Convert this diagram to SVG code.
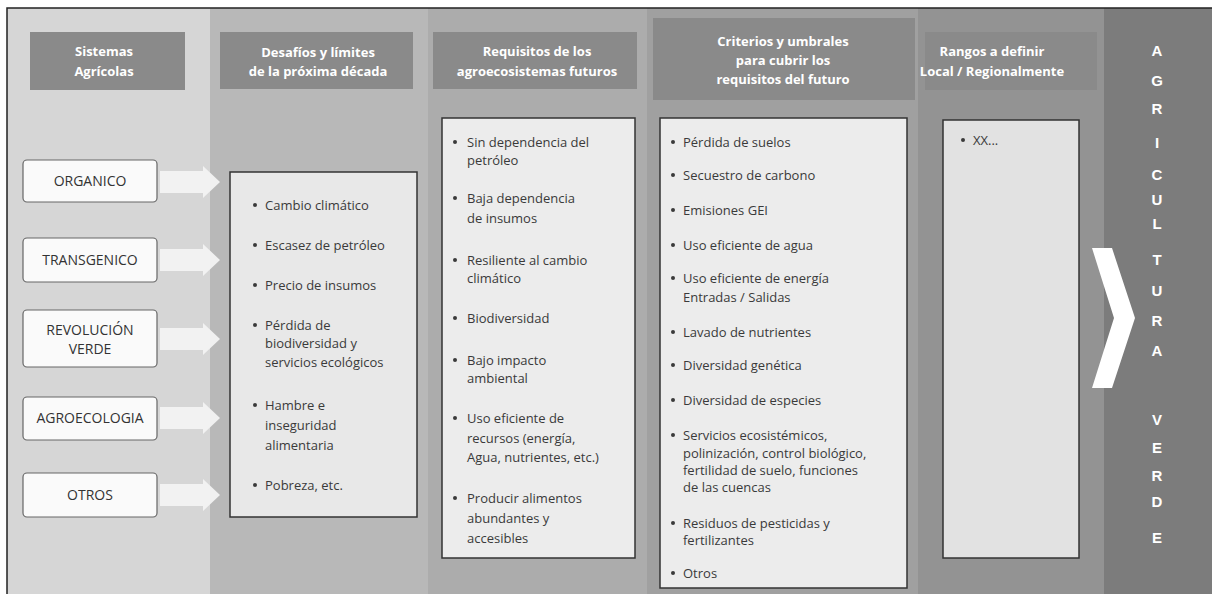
<svg xmlns="http://www.w3.org/2000/svg" width="1212" height="594" viewBox="0 0 1212 594">
<style>
.ht{font-family:"Open Sans","Liberation Sans",sans-serif;font-size:13px;font-weight:bold;fill:#fff;text-anchor:middle}
.hdr{fill:#8a8a8a}
.box{stroke:#333;stroke-width:1.5}
.nb{fill:#fafafa;stroke:#666;stroke-width:1.2}
.nt{font-family:"Open Sans","Liberation Sans",sans-serif;font-size:14px;fill:#333;text-anchor:middle}
.bt{font-family:"Open Sans","Liberation Sans",sans-serif;font-size:13px;fill:#3a3a3a}
.bu{fill:#3a3a3a}
.arr{fill:#f4f4f4;fill-opacity:0.92}
.vl{font-family:"Liberation Sans",Arial,sans-serif;font-size:15px;font-weight:bold;fill:#fff;text-anchor:middle}
</style>
<defs>
<circle id="dot" r="2"/>
</defs>
<rect x="0" y="0" width="1212" height="594" fill="#fff"/>
<g id="bands">
<rect x="7" y="8" width="203" height="586" fill="#d6d6d6"/>
<rect x="210" y="8" width="218" height="586" fill="#b8b8b8"/>
<rect x="428" y="8" width="219" height="586" fill="#acacac"/>
<rect x="647" y="8" width="271" height="586" fill="#a0a0a0"/>
<rect x="918" y="8" width="186" height="586" fill="#939393"/>
<rect x="1104" y="8" width="108" height="586" fill="#7c7c7c"/>
<path d="M7,594 V8 H1212" fill="none" stroke="#222" stroke-width="1.5"/>
</g>
<g id="h1"><rect class="hdr" x="30" y="32" width="155" height="58"/>
<text class="ht" x="104" y="56">Sistemas</text><text class="ht" x="104" y="76">Agrícolas</text></g>
<g id="h2"><rect class="hdr" x="220" y="32" width="193" height="57"/>
<text class="ht" x="318" y="57">Desafíos y límites</text><text class="ht" x="318" y="76">de la próxima década</text></g>
<g id="h3"><rect class="hdr" x="433" y="32" width="204" height="57"/>
<text class="ht" x="537" y="56">Requisitos de los</text><text class="ht" x="537" y="76">agroecosistemas futuros</text></g>
<g id="h4"><rect class="hdr" x="653" y="18" width="262" height="82" fill="#858585"/>
<text class="ht" x="783" y="46">Criterios y umbrales</text><text class="ht" x="783" y="65">para cubrir los</text><text class="ht" x="783" y="84">requisitos del futuro</text></g>
<g id="h5"><rect class="hdr" x="925" y="32" width="172" height="58" fill="#848484"/>
<text class="ht" x="992" y="56">Rangos a definir</text><text class="ht" x="992" y="76">Local / Regionalmente</text></g>

<g id="connectors">
<path class="arr" d="M160,171 H203 V166 L220,182 L203,198 V193 H160 Z"/>
<path class="arr" d="M160,249 H203 V244 L220,260 L203,276 V271 H160 Z"/>
<path class="arr" d="M160,328 H203 V323 L220,339 L203,355 V350 H160 Z"/>
<path class="arr" d="M160,407 H203 V402 L220,418 L203,434 V429 H160 Z"/>
<path class="arr" d="M160,484 H203 V479 L220,495 L203,511 V506 H160 Z"/>
</g>

<g id="n-organico"><rect class="nb" x="23" y="160" width="134" height="42" rx="4"/><text class="nt" x="90" y="186">ORGANICO</text></g>
<g id="n-transgenico"><rect class="nb" x="23" y="238" width="134" height="44" rx="4"/><text class="nt" x="90" y="265">TRANSGENICO</text></g>
<g id="n-revolucion"><rect class="nb" x="23" y="310" width="134" height="57" rx="4"/><text class="nt" x="90" y="335">REVOLUCIÓN</text><text class="nt" x="90" y="354">VERDE</text></g>
<g id="n-agroecologia"><rect class="nb" x="23" y="397" width="134" height="43" rx="4"/><text class="nt" x="90" y="423">AGROECOLOGIA</text></g>
<g id="n-otros"><rect class="nb" x="23" y="473" width="134" height="44" rx="4"/><text class="nt" x="90" y="500">OTROS</text></g>

<g id="desafios">
<rect class="box" x="230" y="172" width="187" height="345" fill="#e8e8e8"/>
<g class="bu"><use href="#dot" x="255" y="205"/><use href="#dot" x="255" y="245"/><use href="#dot" x="255" y="285"/><use href="#dot" x="255" y="325"/><use href="#dot" x="255" y="405"/><use href="#dot" x="255" y="485"/></g>
<text class="bt" x="265" y="210">Cambio climático</text>
<text class="bt" x="265" y="250">Escasez de petróleo</text>
<text class="bt" x="265" y="290">Precio de insumos</text>
<text class="bt" x="265" y="330">Pérdida de</text>
<text class="bt" x="265" y="348">biodiversidad y</text>
<text class="bt" x="265" y="367">servicios ecológicos</text>
<text class="bt" x="265" y="410">Hambre e</text>
<text class="bt" x="265" y="430">inseguridad</text>
<text class="bt" x="265" y="450">alimentaria</text>
<text class="bt" x="265" y="490">Pobreza, etc.</text>
</g>

<g id="requisitos">
<rect class="box" x="442" y="118" width="193" height="440" fill="#ececec"/>
<g class="bu"><use href="#dot" x="455" y="142"/><use href="#dot" x="455" y="198"/><use href="#dot" x="455" y="260"/><use href="#dot" x="455" y="318"/><use href="#dot" x="455" y="360"/><use href="#dot" x="455" y="418"/><use href="#dot" x="455" y="498"/></g>
<text class="bt" x="467" y="147">Sin dependencia del</text>
<text class="bt" x="467" y="165">petróleo</text>
<text class="bt" x="467" y="203">Baja dependencia</text>
<text class="bt" x="467" y="223">de insumos</text>
<text class="bt" x="467" y="265">Resiliente al cambio</text>
<text class="bt" x="467" y="283">climático</text>
<text class="bt" x="467" y="323">Biodiversidad</text>
<text class="bt" x="467" y="365">Bajo impacto</text>
<text class="bt" x="467" y="383">ambiental</text>
<text class="bt" x="467" y="423">Uso eficiente de</text>
<text class="bt" x="467" y="443">recursos (energía,</text>
<text class="bt" x="467" y="462">Agua, nutrientes, etc.)</text>
<text class="bt" x="467" y="503">Producir alimentos</text>
<text class="bt" x="467" y="523">abundantes y</text>
<text class="bt" x="467" y="543">accesibles</text>
</g>

<g id="criterios">
<rect class="box" x="660" y="118" width="247" height="470" fill="#ececec"/>
<g class="bu"><use href="#dot" x="673" y="142"/><use href="#dot" x="673" y="175"/><use href="#dot" x="673" y="210"/><use href="#dot" x="673" y="245"/><use href="#dot" x="673" y="278"/><use href="#dot" x="673" y="332"/><use href="#dot" x="673" y="365"/><use href="#dot" x="673" y="400"/><use href="#dot" x="673" y="435"/><use href="#dot" x="673" y="523"/><use href="#dot" x="673" y="573"/></g>
<text class="bt" x="683" y="147">Pérdida de suelos</text>
<text class="bt" x="683" y="180">Secuestro de carbono</text>
<text class="bt" x="683" y="215">Emisiones GEI</text>
<text class="bt" x="683" y="250">Uso eficiente de agua</text>
<text class="bt" x="683" y="283">Uso eficiente de energía</text>
<text class="bt" x="683" y="302">Entradas / Salidas</text>
<text class="bt" x="683" y="337">Lavado de nutrientes</text>
<text class="bt" x="683" y="370">Diversidad genética</text>
<text class="bt" x="683" y="405">Diversidad de especies</text>
<text class="bt" x="683" y="440">Servicios ecosistémicos,</text>
<text class="bt" x="683" y="458">polinización, control biológico,</text>
<text class="bt" x="683" y="475">fertilidad de suelo, funciones</text>
<text class="bt" x="683" y="492">de las cuencas</text>
<text class="bt" x="683" y="528">Residuos de pesticidas y</text>
<text class="bt" x="683" y="545">fertilizantes</text>
<text class="bt" x="683" y="578">Otros</text>
</g>

<g id="rangos">
<rect class="box" x="943" y="120" width="136" height="438" fill="#e2e2e2"/>
<use class="bu" href="#dot" x="963" y="140"/>
<text class="bt" x="973" y="145">XX...</text>
</g>

<g id="agricultura-verde">
<polygon points="1092,248 1112,248 1135,318 1112,388 1092,388 1114,318" fill="#fff"/>
<text class="vl" x="1157" y="56">A</text>
<text class="vl" x="1157" y="86">G</text>
<text class="vl" x="1157" y="114">R</text>
<text class="vl" x="1157" y="148">I</text>
<text class="vl" x="1157" y="180">C</text>
<text class="vl" x="1157" y="205">U</text>
<text class="vl" x="1157" y="229">L</text>
<text class="vl" x="1157" y="265">T</text>
<text class="vl" x="1157" y="296">U</text>
<text class="vl" x="1157" y="326">R</text>
<text class="vl" x="1157" y="356">A</text>
<text class="vl" x="1157" y="425">V</text>
<text class="vl" x="1157" y="453">E</text>
<text class="vl" x="1157" y="481">R</text>
<text class="vl" x="1157" y="507">D</text>
<text class="vl" x="1157" y="543">E</text>
</g>
</svg>
